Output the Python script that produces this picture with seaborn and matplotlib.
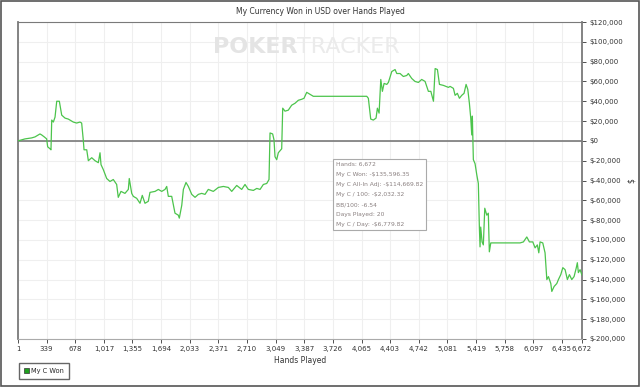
import matplotlib
matplotlib.use("Agg")
import matplotlib.pyplot as plt
import matplotlib.patches as mpatches
import matplotlib.ticker as mticker
import numpy as np
import pandas as pd
import seaborn as sns

# ---- data ----
hands = [1, 84, 163, 202, 261, 281, 312, 340, 352, 380, 391, 400, 419, 439, 459, 490,
         518, 557, 596, 655, 695, 734, 754, 773, 782, 814, 833, 873, 912, 951, 971, 983,
         1010, 1050, 1089, 1128, 1168, 1187, 1219, 1266, 1306, 1317, 1346, 1365, 1405,
         1444, 1471, 1503, 1542, 1562, 1622, 1661, 1701, 1740, 1760, 1779, 1819, 1858,
         1897, 1909, 1938, 1957, 1988, 2016, 2056, 2095, 2134, 2174, 2213, 2252, 2311,
         2371, 2430, 2489, 2529, 2588, 2647, 2686, 2725, 2785, 2825, 2864, 2903, 2943,
         2970, 2982, 3013, 3029, 3041, 3061, 3080, 3120, 3132, 3159, 3198, 3238, 3278,
         3317, 3357, 3384, 3416, 3455, 3494, 3534, 4126, 4145, 4173, 4204, 4236, 4252,
         4272, 4292, 4311, 4331, 4363, 4382, 4422, 4461, 4481, 4520, 4559, 4599, 4618,
         4658, 4697, 4737, 4776, 4816, 4855, 4884, 4915, 4935, 4962, 4986, 5033, 5092,
         5112, 5151, 5171, 5198, 5222, 5250, 5277, 5301, 5321, 5340, 5356, 5368, 5375,
         5387, 5407, 5427, 5446, 5458, 5466, 5474, 5490, 5505, 5522, 5546, 5564, 5576,
         5593, 5703, 5940, 5979, 6019, 6050, 6090, 6117, 6144, 6161, 6176, 6208, 6235,
         6256, 6275, 6303, 6315, 6342, 6374, 6393, 6421, 6445, 6472, 6499, 6523, 6551,
         6578, 6602, 6617, 6629, 6649, 6672]
won = [0, 2000, 3000, 4000, 7000, 6000, 4000, 2000, -6000, -8000, -9000, 21000, 19000,
       24000, 40000, 40000, 26000, 23000, 22000, 19000, 18000, 19000, 18000, 1000, -9000,
       -9000, -20000, -17000, -20000, -22000, -12000, -24000, -29000, -38000, -41000,
       -39000, -44000, -57000, -51000, -53000, -49000, -38000, -53000, -56000, -58000,
       -63000, -55000, -63000, -61000, -52000, -51000, -49000, -51000, -49000, -46000,
       -56000, -56000, -73000, -75000, -78000, -65000, -49000, -42000, -46000, -54000,
       -57000, -54000, -53000, -54000, -49000, -51000, -47000, -46000, -47000, -51000,
       -45000, -49000, -44000, -49000, -50000, -48000, -49000, -44000, -43000, -39000,
       8000, 7000, 1000, -16000, -19000, -12000, -8000, 33000, 30000, 31000, 36000,
       38000, 41000, 42000, 43000, 49000, 47000, 45000, 45000, 45000, 43000, 22000,
       21000, 23000, 33000, 28000, 62000, 50000, 58000, 57000, 59000, 70000, 72000,
       68000, 68000, 65000, 66000, 68000, 63000, 60000, 59000, 62000, 60000, 50000,
       50000, 40000, 73000, 72000, 57000, 56000, 54000, 55000, 53000, 46000, 48000,
       43000, 46000, 48000, 57000, 52000, 38000, 23000, 6000, 25000, -19000, -23000,
       -34000, -43000, -87000, -107000, -87000, -102000, -105000, -68000, -75000,
       -73000, -112000, -103000, -103000, -103000, -102000, -97000, -102000, -102000,
       -108000, -105000, -113000, -102000, -103000, -113000, -140000, -137000, -144000,
       -152000, -147000, -144000, -140000, -135000, -128000, -130000, -140000, -135000,
       -140000, -137000, -129000, -123000, -133000, -130000, -135596]

x_ticks = [1, 339, 678, 1017, 1355, 1694, 2033, 2371, 2710, 3049, 3387, 3726, 4065,
           4403, 4742, 5081, 5419, 5758, 6097, 6435, 6672]
y_ticks = list(range(-200000, 120001, 20000))

info_lines = ["Hands: 6,672", "My C Won: -$135,596.35", "My C All-In Adj: -$114,669.82",
              "My C / 100: -$2,032.32", "BB/100: -6.54", "Days Played: 20",
              "My C / Day: -$6,779.82"]

df = pd.DataFrame({"Hands Played": hands, "My C Won": won})

sns.set_theme(style="white")
plt.rcParams['font.family'] = ['DejaVu Sans']

fig = plt.figure(figsize=(6.4, 3.87), dpi=100)
ax = fig.add_axes([18 / 640, 48 / 387, 564 / 640, 317 / 387])

LINE = "#4cc44c"
sns.lineplot(data=df, x="Hands Played", y="My C Won", ax=ax, color=LINE,
             linewidth=0.9, zorder=3)

ax.set_xlim(1, 6672)
ax.set_ylim(-200000, 120000)
ax.set_xticks(x_ticks)
ax.set_xticklabels([f"{t:,}" for t in x_ticks])
ax.set_yticks(y_ticks)
ax.yaxis.set_major_formatter(mticker.FuncFormatter(
    lambda v, p: "$0" if v == 0 else ("$-" if v < 0 else "$") + f"{abs(int(v)):,}"))
ax.yaxis.tick_right()
ax.yaxis.set_label_position("right")
ax.tick_params(axis="both", labelsize=5.0, colors="#333333", length=3, width=0.6,
               direction="out", pad=2)
ax.tick_params(axis="y", right=True, left=False)
ax.tick_params(axis="x", bottom=True)
ax.grid(True, color="#efefef", linewidth=0.8, zorder=0)
ax.axhline(0, color="#6e6e6e", linewidth=1.1, zorder=2)

ax.set_xlabel("Hands Played", fontsize=5.5, color="#333333", labelpad=3)
ax.set_ylabel("$", fontsize=5.5, color="#333333")
ax.yaxis.set_label_coords(1.08, 0.5)

for side in ["left", "right"]:
    ax.spines[side].set_color("#7a7a7a")
    ax.spines[side].set_linewidth(1.3)
ax.spines["top"].set_color("#7a7a7a")
ax.spines["top"].set_linewidth(0.8)
ax.spines["bottom"].set_color("#aaaaaa")
ax.spines["bottom"].set_linewidth(0.8)

fig.text(0.5, 1 - 12 / 387, "My Currency Won in USD over Hands Played",
         ha="center", va="center", fontsize=5.5, color="#333333")

# watermark
ax.text(0.495, 0.92, "POKER", transform=ax.transAxes, ha="right", va="center",
        fontsize=16, fontweight="bold", color="#e4e4e4", zorder=1)
ax.text(0.495, 0.92, "TRACKER", transform=ax.transAxes, ha="left", va="center",
        fontsize=16, color="#ebebeb", zorder=1)

# info box
ax.text(0.563, 0.558, "\n".join(info_lines), transform=ax.transAxes, ha="left", va="top",
        fontsize=4.3, color="#8a8080", linespacing=2.25, zorder=5,
        bbox=dict(boxstyle="square,pad=0.5", facecolor="white", edgecolor="#aaaaaa",
                  linewidth=0.8))

handle = mpatches.Patch(facecolor="#1fa01f", edgecolor="#333333", linewidth=0.5,
                        label="My C Won")
fig.legend(handles=[handle], loc="lower left",
           bbox_to_anchor=(16 / 640, 5 / 387), fontsize=4.8, frameon=True,
           fancybox=False, edgecolor="#666666", handlelength=0.8, handleheight=0.8,
           handletextpad=0.3, borderpad=0.7, framealpha=1)

fig.patches.append(mpatches.Rectangle((0.002, 0.003), 0.996, 0.994,
                                      transform=fig.transFigure, fill=False,
                                      edgecolor="#555555", linewidth=1.2))

fig.savefig("out.png", dpi=100, facecolor="white")
